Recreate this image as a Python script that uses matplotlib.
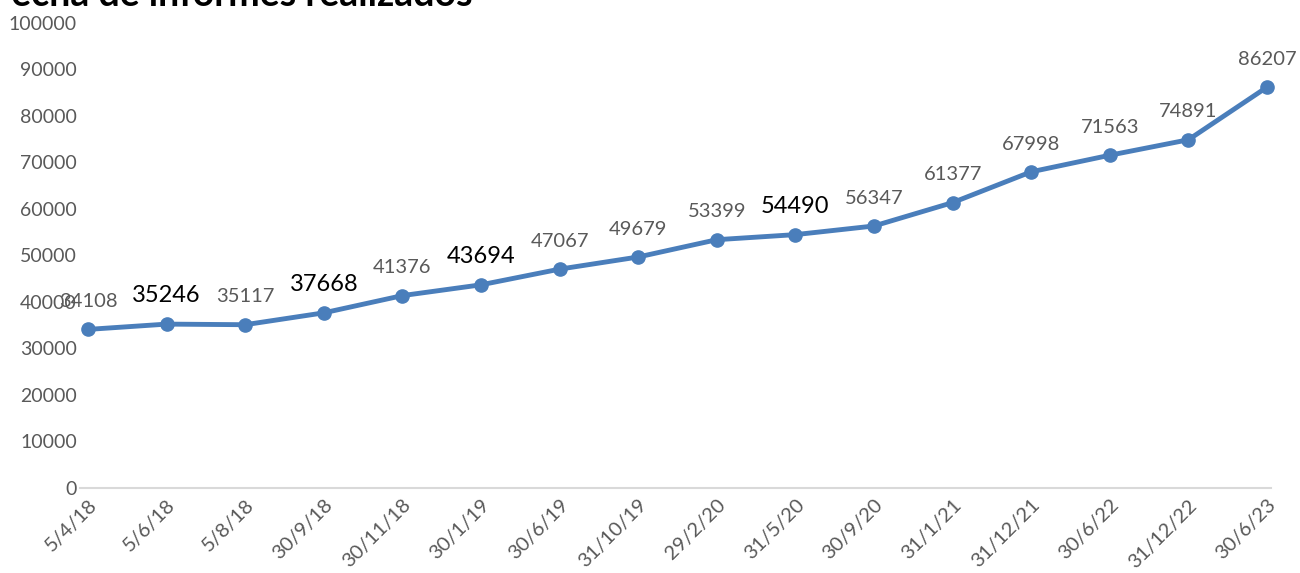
import matplotlib
matplotlib.use("Agg")
import matplotlib.pyplot as plt

plt.rcParams['font.family'] = ['Lato', 'DejaVu Sans']

title = "Fecha de informes realizados"
categories = ["5/4/18", "5/6/18", "5/8/18", "30/9/18", "30/11/18", "30/1/19", "30/6/19",
              "31/10/19", "29/2/20", "31/5/20", "30/9/20", "31/1/21", "31/12/21", "30/6/22",
              "31/12/22", "30/6/23"]
values = [34108, 35246, 35117, 37668, 41376, 43694, 47067, 49679, 53399, 54490, 56347,
          61377, 67998, 71563, 74891, 86207]
# labels drawn larger in black in the original
emphasized = [35246, 37668, 43694, 54490]
yticks = list(range(0, 100001, 10000))

fig = plt.figure(figsize=(13, 5.73), dpi=100)
ax = fig.add_axes([88/1300, 1-488/573, (1267-88)/1300, (488-23)/573])

x = list(range(len(categories)))
ax.plot(x, values, color='#4A7EBB', lw=3.5, marker='o', ms=9.5, solid_capstyle='round', zorder=3, clip_on=False)

for xi, v in zip(x, values):
    if v in emphasized:
        ax.annotate(str(v), (xi, v), xytext=(0, 20.5), textcoords='offset points',
                    ha='center', va='center', fontsize=17, color='black')
    else:
        ax.annotate(str(v), (xi, v), xytext=(0, 20), textcoords='offset points',
                    ha='center', va='center', fontsize=14.5, color='#595959')

ax.set_xlim(0, len(categories) - 1)
ax.set_ylim(0, 100000)
ax.set_yticks(yticks)
ax.set_yticklabels([str(t) for t in yticks], fontsize=14, color='#595959')
ax.set_xticks(x)
ax.set_xticklabels(categories, rotation=45, ha='right', va='top', rotation_mode='anchor',
                   fontsize=14.5, color='#595959')
ax.tick_params(axis='both', length=0)
ax.tick_params(axis='y', pad=8)
ax.tick_params(axis='x', pad=6)
for s in ['top', 'right', 'left']:
    ax.spines[s].set_visible(False)
ax.spines['bottom'].set_color('#D9D9D9')
ax.spines['bottom'].set_linewidth(1.5)
ax.spines['bottom'].set_bounds(-0.1, len(categories) - 1 + 0.05)

fig.text(473/1300, 1 - 6/573, title, fontsize=27, fontweight='bold', color='black',
         ha='right', va='baseline')

fig.savefig('out.png', dpi=100)
